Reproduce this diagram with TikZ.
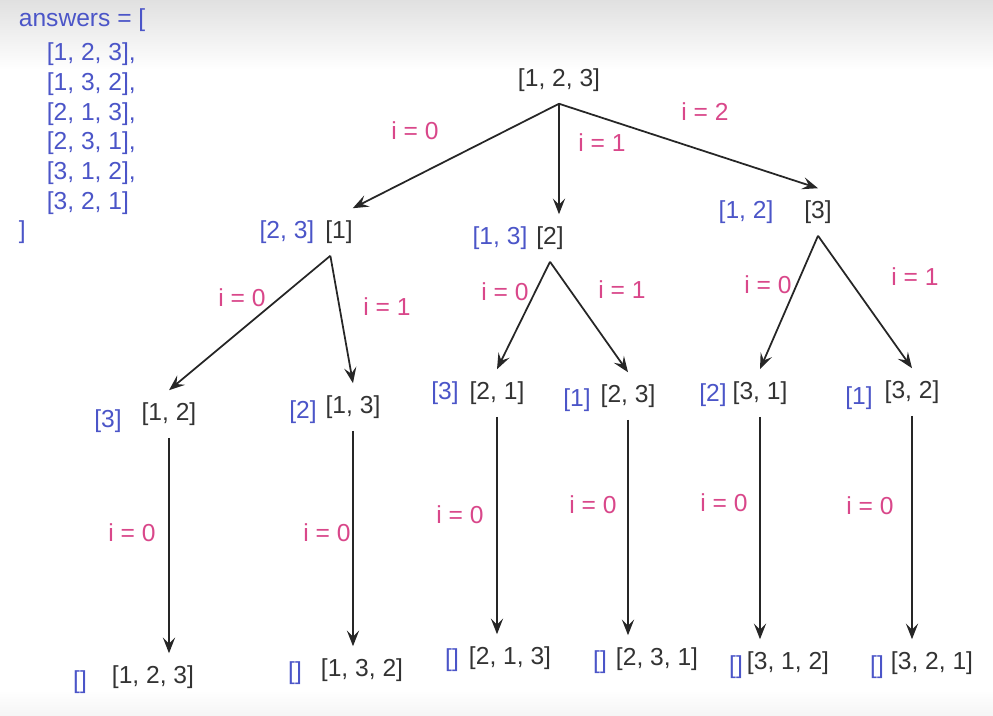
\documentclass[tikz,border=0pt]{standalone}
\usepackage{fontspec}
\setmainfont{Liberation Sans}
\usetikzlibrary{arrows.meta,positioning}
\definecolor{restblue}{HTML}{4B55C8}
\definecolor{idxpink}{HTML}{D9478A}
\definecolor{permgray}{HTML}{333333}

\begin{document}
\begin{tikzpicture}[x=0.02cm, y=-0.02cm,
  perm/.style={text=permgray, inner sep=2pt, outer sep=5pt, font=\fontsize{14}{17}\selectfont},
  rest/.style={text=restblue, inner sep=2pt, font=\fontsize{14}{17}\selectfont},
  idx/.style={text=idxpink, font=\fontsize{14}{17}\selectfont},
  edge/.style={-{Stealth[length=9pt,width=7pt,inset=3.5pt]}, line width=1pt, draw=black!85}]

  % background
  \useasboundingbox (0,0) rectangle (993,716);
  \fill[white] (0,0) rectangle (993,716);
  \shade[top color=black!12, bottom color=white] (0,0) rectangle (993,70);
  \shade[top color=white, bottom color=black!4] (0,690) rectangle (993,716);

  % answers list
  \node[rest, anchor=base west] (ans0) at (15,27) {answers = [};
  \node[rest, anchor=base west] (ans1) at (43,61) {[1, 2, 3],};
  \node[rest, anchor=base west] (ans2) at (43,91) {[1, 3, 2],};
  \node[rest, anchor=base west] (ans3) at (43,121) {[2, 1, 3],};
  \node[rest, anchor=base west] (ans4) at (43,150) {[2, 3, 1],};
  \node[rest, anchor=base west] (ans5) at (43,180) {[3, 1, 2],};
  \node[rest, anchor=base west] (ans6) at (43,210) {[3, 2, 1]};
  \node[rest, anchor=base west] (ans7) at (15,238) {]};

  % root
  \node[perm] (root) at (559,80) {[1, 2, 3]};

  % level 1
  \node[rest] (r11) at (287,232) {[2, 3]};
  \node[perm] (n11) at (339,232) {[1]};
  \node[rest] (r12) at (500,238) {[1, 3]};
  \node[perm] (n12) at (550,238) {[2]};
  \node[rest] (r13) at (746,212) {[1, 2]};
  \node[perm] (n13) at (818,212) {[3]};

  % level 2
  \node[rest] (r21) at (108,421) {[3]};
  \node[perm] (n21) at (169,414) {[1, 2]};
  \node[rest] (r22) at (303,412) {[2]};
  \node[perm] (n22) at (353,407) {[1, 3]};
  \node[rest] (r23) at (445,393) {[3]};
  \node[perm] (n23) at (497,393) {[2, 1]};
  \node[rest] (r24) at (577,400) {[1]};
  \node[perm] (n24) at (628,396) {[2, 3]};
  \node[rest] (r25) at (713,395) {[2]};
  \node[perm] (n25) at (760,393) {[3, 1]};
  \node[rest] (r26) at (859,398) {[1]};
  \node[perm] (n26) at (912,392) {[3, 2]};

  % level 3
  \node[rest] (r31) at (80,682) {[]};
  \node[perm] (n31) at (153,677) {[1, 2, 3]};
  \node[rest] (r32) at (295,673) {[]};
  \node[perm] (n32) at (362,670) {[1, 3, 2]};
  \node[rest] (r33) at (452,660) {[]};
  \node[perm] (n33) at (510,658) {[2, 1, 3]};
  \node[rest] (r34) at (600,662) {[]};
  \node[perm] (n34) at (657,659) {[2, 3, 1]};
  \node[rest] (r35) at (736,667) {[]};
  \node[perm] (n35) at (788,663) {[3, 1, 2]};
  \node[rest] (r36) at (877,667) {[]};
  \node[perm] (n36) at (932,663) {[3, 2, 1]};

  % root -> level 1
  \draw[edge] (root.south) -- (n11.60);
  \draw[edge] (root.south) -- (root.south |- n12.north);
  \draw[edge] (root.south) -- (n13.north);

  % level 1 -> level 2
  \draw[edge] (n11.250) -- (n21.north);
  \draw[edge] (n11.250) -- (n22.north);
  \draw[edge] (n12.south) -- (n23.north);
  \draw[edge] (n12.south) -- (n24.north);
  \draw[edge] (n13.south) -- (n25.north);
  \draw[edge] (n13.south) -- (n26.north);

  % level 2 -> level 3
  \draw[edge] (n21.south) -- (n21.south |- n31.north);
  \draw[edge] (n22.south) -- (n22.south |- n32.north);
  \draw[edge] (n23.south) -- (n23.south |- n33.north);
  \draw[edge] (n24.south) -- (n24.south |- n34.north);
  \draw[edge] (n25.south) -- (n25.south |- n35.north);
  \draw[edge] (n26.south) -- (n26.south |- n36.north);

  % index labels
  \node[idx] (i10) at (415,131) {i = 0};
  \node[idx] (i11) at (602,143) {i = 1};
  \node[idx] (i12) at (705,112) {i = 2};
  \node[idx] (i20) at (242,298) {i = 0};
  \node[idx] (i21) at (387,307) {i = 1};
  \node[idx] (i22) at (505,292) {i = 0};
  \node[idx] (i23) at (622,290) {i = 1};
  \node[idx] (i24) at (768,285) {i = 0};
  \node[idx] (i25) at (915,277) {i = 1};
  \node[idx] (i30) at (132,533) {i = 0};
  \node[idx] (i31) at (327,533) {i = 0};
  \node[idx] (i32) at (460,515) {i = 0};
  \node[idx] (i33) at (593,505) {i = 0};
  \node[idx] (i34) at (724,503) {i = 0};
  \node[idx] (i35) at (870,506) {i = 0};
\end{tikzpicture}
\end{document}
